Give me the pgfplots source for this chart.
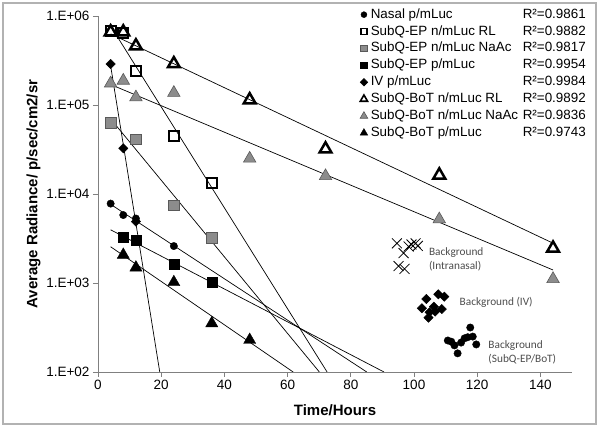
\documentclass[border=0pt]{standalone}
\usepackage{fontspec}
\setmainfont{Liberation Sans}
\newfontfamily\calibri{Carlito}
\usepackage{pgfplots}
\pgfplotsset{compat=1.18}
\definecolor{hatch}{gray}{0.55}
\definecolor{hatchedge}{gray}{0.35}
\definecolor{bgtext}{gray}{0.3}
\begin{document}
\begin{tikzpicture}[x=1pt,y=1pt]
\useasboundingbox (0,0) rectangle (600,436);
\draw[black!30, line width=1.2pt] (3,12) rectangle (596,433);
\begin{axis}[
  at={(98pt,64pt)}, anchor=south west,
  width=474pt, height=356pt, scale only axis,
  ymode=log, xmin=0, xmax=150, ymin=100, ymax=1000000,
  xtick={0,20,40,60,80,100,120,140},
  ytick={100,1000,10000,100000,1000000},
  yticklabels={1.E+02,1.E+03,1.E+04,1.E+05,1.E+06},
  yminorticks=false,
  axis x line*=bottom, axis y line*=left,
  axis line style={black!50, line width=0.8pt, -},
  tick style={black!50, line width=0.8pt},
  major tick length=5pt, tick align=outside,
  tick label style={font=\fontsize{13.5}{16}\selectfont},
  /pgf/number format/assume math mode=true,
  xlabel={Time/Hours},
  ylabel={Average Radiance/ p/sec/cm2/sr},
  xlabel style={font=\bfseries\fontsize{15}{18}\selectfont, at={(axis description cs:0.5,-0.1222)}, anchor=base},
  ylabel style={font=\bfseries\fontsize{15}{18}\selectfont, at={(axis description cs:-0.1278,0.5)}, anchor=base},
  legend style={at={(axis description cs:0.553,1.022)}, anchor=north west, draw=none, fill=none,
    font=\fontsize{13.4}{16}\selectfont, row sep=3.9pt, column sep=3pt, inner sep=0pt, outer sep=0pt,
    nodes={inner sep=0pt, text height=10pt, text depth=3pt}},
  legend cell align=left,
  legend image code/.code={\draw[#1] plot coordinates {(0pt,0pt)};},
]
% ---- trend lines ----
\addplot[black, line width=0.7pt, forget plot] coordinates {(4,7660) (85.05,100)};
\addplot[black, line width=0.7pt, forget plot] coordinates {(4,772000) (72.5,100)};
\addplot[black, line width=0.7pt, forget plot] coordinates {(4,69800) (70.05,100)};
\addplot[black, line width=0.7pt, forget plot] coordinates {(4,3960) (90.5,100)};
\addplot[black, line width=0.7pt, forget plot] coordinates {(4,275700) (19.54,100)};
\addplot[black, line width=0.7pt, forget plot] coordinates {(4,630000) (144,2800)};
\addplot[black, line width=0.7pt, forget plot] coordinates {(4,170000) (144,1400)};
\addplot[black, line width=0.7pt, forget plot] coordinates {(4,2554) (61.76,100)};
% ---- series ----
\addplot[only marks, mark=*, mark size=3.7pt, black, legend image post style={mark size=3pt}]
  coordinates {(4,7800) (8,5800) (12,5300) (24,2600)};
\addlegendentry{\makebox[215pt][l]{Nasal p/mLuc\hfill R²=0.9861}}
\addplot[only marks, mark=square, mark size=5pt, black, line width=2pt, legend image post style={mark size=3pt, line width=1.5pt}]
  coordinates {(4,680000) (8,640000) (12,243000) (24,45000) (36,13400)};
\addlegendentry{\makebox[215pt][l]{SubQ-EP n/mLuc RL\hfill R²=0.9882}}
\addplot[only marks, mark=square*, mark size=5.3pt, mark options={fill=hatch, draw=hatchedge, line width=0.6pt}, legend image post style={mark size=3.3pt}]
  coordinates {(4,63000) (12,41000) (24,7500) (36,3200)};
\addlegendentry{\makebox[215pt][l]{SubQ-EP n/mLuc NaAc\hfill R²=0.9817}}
\addplot[only marks, mark=square*, mark size=5pt, black, legend image post style={mark size=3.3pt}]
  coordinates {(8,3230) (12,2990) (24,1620) (36,1030)};
\addlegendentry{\makebox[215pt][l]{SubQ-EP p/mLuc\hfill R²=0.9954}}
\addplot[only marks, mark=square*, mark size=3.3pt, mark options={rotate=45}, black, legend image post style={mark size=2.7pt}]
  coordinates {(4,289000) (8,32600) (12,4900)};
\addlegendentry{\makebox[215pt][l]{IV p/mLuc\hfill R²=0.9984}}
\addplot[only marks, mark=triangle, mark size=6.8pt, black, line width=2.5pt, legend image post style={mark size=4.2pt, line width=1.6pt}]
  coordinates {(4,660000) (8,660000) (12,460000) (24,290000) (48,114000) (72,32000) (108,16300) (144,2460)};
\addlegendentry{\makebox[215pt][l]{SubQ-BoT n/mLuc RL\hfill R²=0.9892}}
\addplot[only marks, mark=triangle*, mark size=7.2pt, mark options={fill=hatch, draw=hatchedge, line width=0.6pt}, legend image post style={mark size=4.4pt}]
  coordinates {(4,175000) (8,188000) (12,122000) (24,137000) (48,25000) (72,15900) (108,5200) (144,1110)};
\addlegendentry{\makebox[215pt][l]{SubQ-BoT n/mLuc NaAc\hfill R²=0.9836}}
\addplot[only marks, mark=triangle*, mark size=7pt, black, legend image post style={mark size=4.4pt}]
  coordinates {(8,2070) (12,1490) (24,1020) (36,352) (48,229)};
\addlegendentry{\makebox[215pt][l]{SubQ-BoT p/mLuc\hfill R²=0.9743}}
% ---- background ----
\addplot[only marks, mark=x, mark size=7pt, black, line width=0.8pt, forget plot]
  coordinates {(94.6,2790) (96.7,2170) (98.3,2570) (99.2,2710) (100.5,2790) (101.2,2610) (95.1,1550) (97.0,1440)};
\addplot[only marks, mark=square*, mark size=3.3pt, mark options={rotate=45}, black, forget plot]
  coordinates {(103.9,661) (102.5,520) (104.9,469) (104.6,408) (106.3,542) (106.7,477) (107.7,746) (108.8,510) (109.6,702)};
\addplot[only marks, mark=*, mark size=3.7pt, black, forget plot]
  coordinates {(110.7,226) (111.8,219) (112.8,199) (113.8,162) (114.9,214) (116.0,239) (117.0,246) (117.8,316) (118.6,250) (119.7,204)};
\node[anchor=west, align=left, font=\calibri\fontsize{11.3}{14}\selectfont, text=bgtext, inner sep=0pt] at (axis cs:104.7,1828) {Background\\(Intranasal)};
\node[anchor=west, align=left, font=\calibri\fontsize{11.3}{14}\selectfont, text=bgtext, inner sep=0pt] at (axis cs:114.4,601) {Background (IV)};
\node[anchor=west, align=left, font=\calibri\fontsize{11.3}{14}\selectfont, text=bgtext, inner sep=0pt] at (axis cs:123.5,164.6) {Background\\(SubQ-EP/BoT)};
\end{axis}
\end{tikzpicture}
\end{document}
